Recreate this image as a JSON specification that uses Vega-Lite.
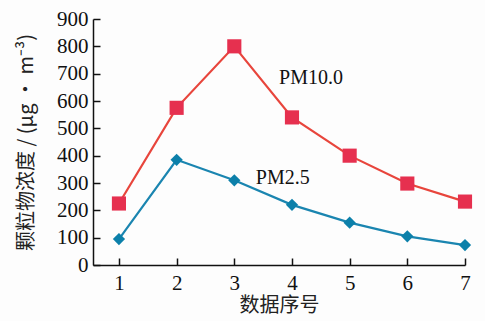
{
  "$schema": "https://vega.github.io/schema/vega-lite/v6.json",
  "width": 372,
  "height": 246,
  "autosize": {"type": "none"},
  "padding": {"left": 93, "top": 19, "right": 20, "bottom": 56},
  "background": "#fdfdfd",
  "config": {
    "view": {"stroke": null},
    "axis": {
      "grid": false,
      "domainColor": "#111",
      "domainWidth": 1.5,
      "tickColor": "#111",
      "tickWidth": 1.5,
      "tickSize": -7,
      "labelFont": "Liberation Serif",
      "labelFontSize": 21,
      "labelColor": "#111",
      "titleFont": "Noto Sans CJK SC",
      "titleFontSize": 20,
      "titleFontWeight": "normal",
      "titleColor": "#222"
    },
    "axisY": {"labelFont": "Liberation Serif", "labelFontSize": 21}
  },
  "datasets": {
    "series": [
      {"n": 1, "v": 225, "s": "PM10.0"},
      {"n": 2, "v": 575, "s": "PM10.0"},
      {"n": 3, "v": 800, "s": "PM10.0"},
      {"n": 4, "v": 540, "s": "PM10.0"},
      {"n": 5, "v": 400, "s": "PM10.0"},
      {"n": 6, "v": 298, "s": "PM10.0"},
      {"n": 7, "v": 232, "s": "PM10.0"},
      {"n": 1, "v": 95, "s": "PM2.5"},
      {"n": 2, "v": 385, "s": "PM2.5"},
      {"n": 3, "v": 310, "s": "PM2.5"},
      {"n": 4, "v": 220, "s": "PM2.5"},
      {"n": 5, "v": 155, "s": "PM2.5"},
      {"n": 6, "v": 105, "s": "PM2.5"},
      {"n": 7, "v": 73, "s": "PM2.5"}
    ],
    "labels": [
      {"n": 4.33, "v": 685, "t": "PM10.0"},
      {"n": 3.84, "v": 318, "t": "PM2.5"}
    ]
  },
  "encoding": {
    "x": {"field": "n", "type": "quantitative", "scale": {"domain": [0.55, 7], "nice": false, "zero": false},
          "axis": {"values": [1, 2, 3, 4, 5, 6, 7], "format": "d", "title": "数据序号", "labelPadding": 14, "titlePadding": 2, "labelOverlap": false, "labelFlush": false}},
    "y": {"field": "v", "type": "quantitative", "scale": {"domain": [0, 900], "nice": false},
          "axis": {"values": [0, 100, 200, 300, 400, 500, 600, 700, 800, 900], "format": "d", "title": "颗粒物浓度 / (μg • m⁻³)", "labelFont": "Liberation Serif", "labelFontSize": 21, "labelColor": "#111", "labelPadding": 12, "titlePadding": 20, "labelOverlap": false, "labelFlush": false}}
  },
  "layer": [
    {
      "data": {"name": "series"},
      "mark": {"type": "line", "strokeWidth": 2.2},
      "encoding": {
        "color": {"field": "s", "type": "nominal", "scale": {"domain": ["PM10.0", "PM2.5"], "range": ["#e8453c", "#1a85b0"]}, "legend": null}
      }
    },
    {
      "data": {"name": "series"},
      "mark": {"type": "point", "filled": true, "opacity": 1},
      "encoding": {
        "shape": {"field": "s", "type": "nominal", "scale": {"domain": ["PM10.0", "PM2.5"], "range": ["square", "diamond"]}, "legend": null},
        "size": {"field": "s", "type": "nominal", "scale": {"domain": ["PM10.0", "PM2.5"], "range": [200, 150]}, "legend": null},
        "color": {"field": "s", "type": "nominal", "scale": {"domain": ["PM10.0", "PM2.5"], "range": ["#e6304f", "#0c80aa"]}, "legend": null}
      }
    },
    {
      "data": {"name": "labels"},
      "mark": {"type": "text", "font": "Liberation Serif", "fontSize": 20, "color": "#111", "align": "center", "baseline": "middle"},
      "encoding": {
        "text": {"field": "t"}
      }
    }
  ],
  "resolve": {"scale": {"color": "independent"}}
}
